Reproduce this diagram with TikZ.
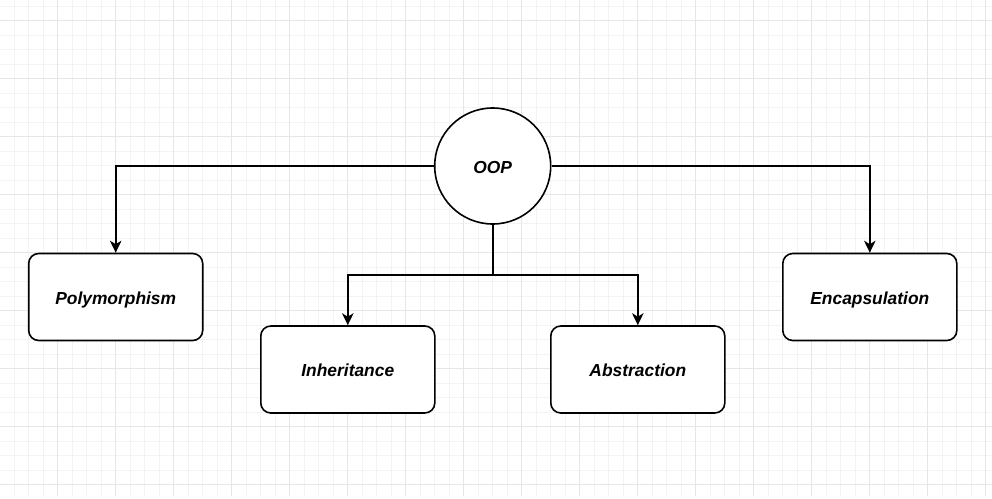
\documentclass[tikz,border=0pt]{standalone}
\usepackage{fontspec}
\setmainfont{Liberation Sans}
\usetikzlibrary{arrows.meta}
\definecolor{gridminor}{HTML}{F3F3F3}
\definecolor{gridmajor}{HTML}{E6E6E6}
\tikzset{
  minorgrid/.style={draw=gridminor, line width=1pt},
  majorgrid/.style={draw=gridmajor, line width=1pt},
  labeltext/.style={font=\fontsize{17.4}{20}\selectfont\bfseries\itshape,
    text height=17.5pt, text depth=3pt},
  conceptbox/.style={labeltext, draw=black, line width=1.6pt, rounded corners=10pt, fill=white,
    minimum width=174pt, minimum height=87pt, inner sep=0pt},
  hubcircle/.style={labeltext, draw=black, line width=1.6pt, circle, fill=white,
    minimum size=116pt, inner sep=0pt},
  conn/.style={draw=black, line width=1.6pt},
  arr/.style={conn, -{Stealth[length=12pt, width=11.5pt, inset=3.5pt]}}
}
\begin{document}
\begin{tikzpicture}[x=1pt, y=-1pt]
\useasboundingbox (0,0) rectangle (992,498);
\fill[white] (0,0) rectangle (992,498);
\begin{scope}
\clip (0,0) rectangle (992,496);
\foreach \k in {0,...,69} \draw[minorgrid] ({-0.5+14.5*\k},0) -- ++(0,496);
\foreach \k in {0,...,33} \draw[minorgrid] (0,{6+14.5*\k}) -- ++(992,0);
\foreach \k in {0,...,17} \draw[majorgrid] ({-0.5+58*\k},0) -- ++(0,496);
\foreach \k in {0,...,8} \draw[majorgrid] (0,{20.5+58*\k}) -- ++(992,0);
\end{scope}

\node[hubcircle] (oop) at (492.7,166) {OOP};
\node[conceptbox] (poly) at (115.7,297) {Polymorphism};
\node[conceptbox] (inher) at (347.8,369.5) {Inheritance};
\node[conceptbox] (abst) at (637.8,369.5) {Abstraction};
\node[conceptbox] (encap) at (869.8,297) {Encapsulation};
\coordinate (junction) at (492.7,275);

\draw[arr] (oop.west) -| (poly.north);
\draw[arr] (oop.east) -| (encap.north);
\draw[conn] (oop.south) -- (junction);
\draw[arr] (junction) -| (inher.north);
\draw[arr] (junction) -| (abst.north);
\end{tikzpicture}
\end{document}
